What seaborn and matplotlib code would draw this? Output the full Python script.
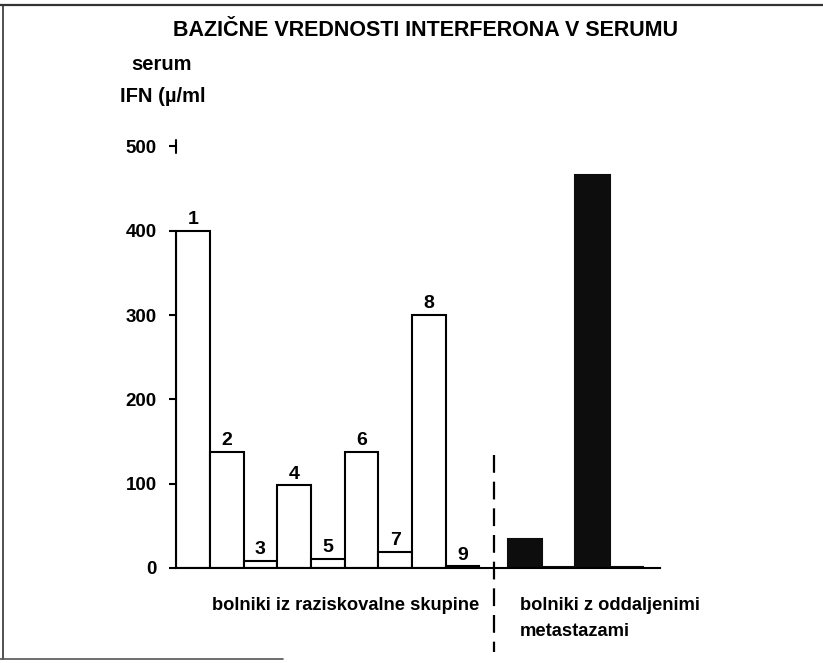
import matplotlib
matplotlib.use('Agg')
import matplotlib.pyplot as plt
import seaborn as sns
import pandas as pd
import numpy as np
from matplotlib.lines import Line2D

# ---- data ----
patients = ['1', '2', '3', '4', '5', '6', '7', '8', '9']
ifn_study = [400, 138, 8, 98, 11, 138, 19, 300, 2]
ifn_metast = [34, 1, 466, 1]
yticks = [0, 100, 200, 300, 400, 500]
title = 'BAZIČNE VREDNOSTI INTERFERONA V SERUMU'
ylab1 = 'serum'
ylab2 = 'IFN (µ/ml'
group1 = 'bolniki iz raziskovalne skupine'
group2a = 'bolniki z oddaljenimi'
group2b = 'metastazami'

sns.set_theme(style='white')
plt.rcParams['font.family'] = ['Liberation Sans', 'DejaVu Sans']
plt.rcParams['font.weight'] = 'bold'
plt.rcParams['text.color'] = 'black'
plt.rcParams['axes.labelcolor'] = 'black'
plt.rcParams['ytick.color'] = 'black'

W, H = 823, 663
fig = plt.figure(figsize=(W / 100, H / 100), dpi=100)
fig.patch.set_facecolor('white')

slot = 33.7      # px per category slot
x0px = 193       # px center of first bar
y0px = 568       # px of value 0
ppu = 0.843      # px per unit
xl = -0.5
xr = (660 - x0px) / slot
ytop = 520
ax = fig.add_axes([(x0px + xl * slot) / W, 1 - y0px / H,
                   (xr - xl) * slot / W, ytop * ppu / H])
ax.set_facecolor('white')

study_df = pd.DataFrame({'pos': np.arange(len(ifn_study)), 'ifn': ifn_study})
met_df = pd.DataFrame({'pos': len(ifn_study) + 0.85 + np.arange(len(ifn_metast)),
                       'ifn': ifn_metast})

sns.barplot(data=study_df, x='pos', y='ifn', native_scale=True, width=1.0,
            color='white', saturation=1, edgecolor='black', linewidth=1.5,
            errorbar=None, ax=ax)
sns.barplot(data=met_df, x='pos', y='ifn', native_scale=True, width=1.02,
            color='#0d0d0d', saturation=1, edgecolor='#0d0d0d', linewidth=1.5,
            errorbar=None, ax=ax)

ax.bar_label(ax.containers[0], labels=patients, padding=2,
             fontsize=14, fontweight='bold', color='black')

ax.set_xlim(xl, xr)
ax.set_ylim(0, ytop)
ax.set_xlabel('')
ax.set_ylabel('')
ax.set_xticks([])
ax.set_yticks(yticks)
ax.set_yticklabels([str(v) for v in yticks], fontsize=13.5, fontweight='bold')
ax.tick_params(axis='y', left=True, length=5, width=1.5, pad=9, colors='black')

for s in ['top', 'right']:
    ax.spines[s].set_visible(False)
ax.spines['left'].set_bounds(0, 400)
ax.spines['left'].set_linewidth(1.5)
ax.spines['left'].set_color('black')
ax.spines['bottom'].set_linewidth(1.5)
ax.spines['bottom'].set_color('black')

# small vertical stroke of the "500 -|" tick
ax.plot([xl, xl], [492, 508], color='black', lw=1.5, clip_on=False)

# dashed separator between groups
xs = (len(ifn_study) - 1 + met_df['pos'].iloc[0]) / 2
ax.plot([xs, xs], [(y0px - 455) / ppu, (y0px - 652) / ppu], color='black',
        lw=1.6, ls=(0, (8, 4)), clip_on=False)

def ftxt(x, y, s, **kw):
    fig.text(x / W, 1 - y / H, s, va='center', fontweight='bold',
             color='black', **kw)

ftxt(426, 30, title, ha='center', fontsize=15.5)
ftxt(131, 65, ylab1, ha='left', fontsize=14.5)
ftxt(120, 96, ylab2, ha='left', fontsize=14.5)
ftxt(212, 605, group1, ha='left', fontsize=13.2)
ftxt(520, 605, group2a, ha='left', fontsize=13.2)
ftxt(520, 632, group2b, ha='left', fontsize=13.2)

# scanned page frame
fig.add_artist(Line2D([0, 1], [1 - 4.5 / H, 1 - 4.5 / H], transform=fig.transFigure,
                      color='#333333', lw=1.6))
fig.add_artist(Line2D([3 / W, 3 / W], [1 - 4.5 / H, 1 - 659 / H], transform=fig.transFigure,
                      color='#333333', lw=1.2))
fig.add_artist(Line2D([0, 283 / W], [1 - 659 / H, 1 - 659 / H], transform=fig.transFigure,
                      color='#555555', lw=1.2))

fig.savefig('out.png', dpi=100, facecolor='white')
